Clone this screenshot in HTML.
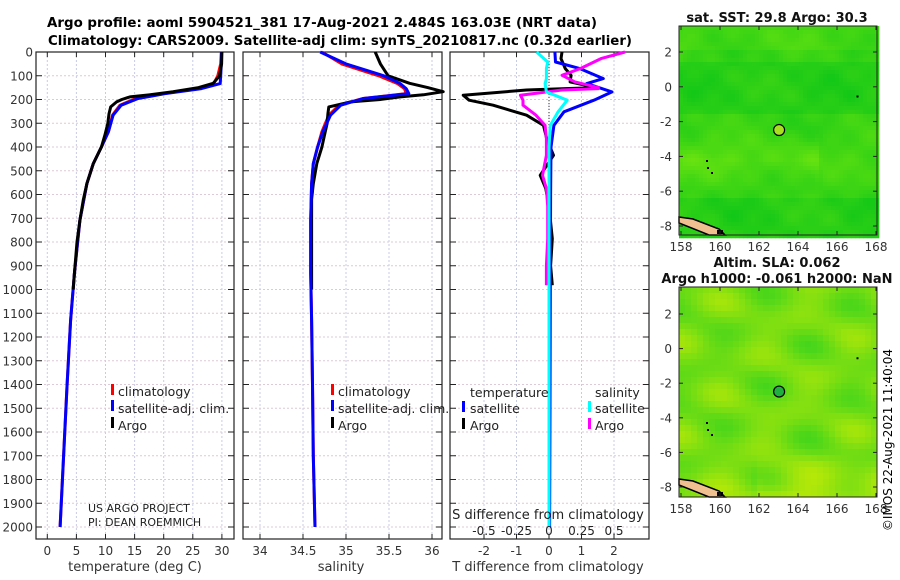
<!DOCTYPE html>
<html><head><meta charset="utf-8"><style>
html,body{margin:0;padding:0;background:#fff;}
svg{display:block;font-family:"DejaVu Sans","Liberation Sans",sans-serif;}
</style></head><body>
<svg id="fig" width="900" height="580" viewBox="0 0 900 580" xmlns="http://www.w3.org/2000/svg">
<text x="322" y="27" text-anchor="middle" font-size="13" font-weight="bold" textLength="550" lengthAdjust="spacingAndGlyphs">Argo profile: aoml 5904521_381 17-Aug-2021 2.484S 163.03E (NRT data)</text>
<text x="340" y="45" text-anchor="middle" font-size="13" font-weight="bold" textLength="584" lengthAdjust="spacingAndGlyphs">Climatology: CARS2009. Satellite-adj clim: synTS_20210817.nc (0.32d earlier)</text>
<g id="panels"></g>
<g id="maps"></g>
<text transform="translate(892,440) rotate(-90)" text-anchor="middle" font-size="12">©IMOS 22-Aug-2021 11:40:04</text>
</svg>
<script>
// ---- data (depth in m) ----
const depthTicks = [0,100,200,300,400,500,600,700,800,900,1000,1100,1200,1300,1400,1500,1600,1700,1800,1900,2000];
const argoDepth = [0,50,100,132,150,167,180,189,200,210,231,260,301,350,400,470,554,620,708,800,933,1000];
const argoTemp  = [30.0,29.95,29.6,28.5,26.0,21.6,17.5,14.2,12.8,11.9,10.9,10.6,10.4,9.9,9.3,7.9,6.8,6.2,5.6,5.1,4.65,4.45];
const argoSal   = [35.34,35.4,35.49,35.74,35.95,36.13,35.9,35.63,35.4,35.05,34.8,34.79,34.78,34.75,34.72,34.66,34.62,34.6,34.6,34.6,34.6,34.6];
const climDepth = [0,50,100,133,154,175,196,224,266,336,400,470,554,708,933,1130,1400,1700,2000];
const climTemp  = [29.9,29.8,29.3,28.6,25.8,20.0,15.2,12.5,11.2,10.5,9.3,7.9,6.8,5.6,4.65,4.0,3.4,2.8,2.2];
const climSal   = [34.72,34.95,35.38,35.6,35.68,35.7,35.2,34.92,34.8,34.72,34.67,34.62,34.6,34.59,34.59,34.6,34.61,34.62,34.64];
const satTemp   = [29.95,29.9,29.8,29.7,26.5,20.2,15.6,12.7,11.3,10.5,9.3,7.9,6.8,5.6,4.65,4.0,3.4,2.8,2.2];
const satSal    = [34.7,35.0,35.44,35.63,35.7,35.73,35.2,34.94,34.82,34.73,34.67,34.62,34.6,34.59,34.59,34.6,34.61,34.62,34.64];
// differences
const dArgoDepth = [0,28,70,98,126,150,154,160,182,203,224,266,309,365,435,519,575,650,786,900,982];
const dArgoT     = [0.4,0.37,0.5,0.68,0.65,1.47,0.5,-0.69,-2.64,-2.46,-1.72,-0.69,-0.17,-0.07,0.14,-0.27,-0.1,0.0,0.1,0.05,0.1];
const dArgoS     = [0.585,0.4,0.24,0.1,0.2,0.38,0.38,0.1,-0.22,-0.2,-0.2,-0.1,-0.03,-0.02,-0.02,-0.05,-0.02,-0.01,-0.01,-0.02,-0.02];
const dSatDepth  = [0,42,70,112,133,168,203,252,309,400,600,1000,1500,2000];
const dSatT      = [0.18,0.2,0.95,1.67,1.16,1.94,1.38,0.46,0.15,0.06,0.05,0.04,0.03,0.02];
const dSatS      = [-0.095,-0.01,-0.02,-0.02,-0.03,-0.02,0.14,0.07,0.01,0.0,0.0,0.0,0.0,0.0];
const tTicks = [0,5,10,15,20,25,30];
const sTicks = [34,34.5,35,35.5,36];
const dTTicks = [-2,-1,0,1,2];
const dSTickLabels = ["-0.5","-0.25","0","0.25","0.5"];

const NS="http://www.w3.org/2000/svg";
const root=document.getElementById('panels');
function el(tag,attrs,parent){const e=document.createElementNS(NS,tag);for(const k in attrs)e.setAttribute(k,attrs[k]);(parent||root).appendChild(e);return e;}
const TOP=52,BOT=539;
const yD = d => 52 + d*0.2375;
const panels=[
 {x0:36,x1:234,f:v=>47.3+v*5.82,ticks:tTicks,labels:tTicks.map(String),name:'temperature'},
 {x0:243,x1:442,f:v=>260+(v-34)*86,ticks:sTicks,labels:sTicks.map(String),name:'salinity'},
 {x0:450,x1:649,f:v=>549+v*32.5,ticks:dTTicks,labels:dTTicks.map(String),name:'difference'}
];
function line(xs,ds,fx,color,name,w){
  const pts=xs.map((v,i)=>fx(v).toFixed(1)+','+yD(ds[i]).toFixed(1)).join(' ');
  const p=el('polyline',{points:pts,fill:'none',stroke:color,'stroke-width':w||3,'stroke-linejoin':'round'});
  
  
}
panels.forEach((P,pi)=>{
  const g=el('g',{});
  
  
  P.ticks.forEach(t=>{const x=P.f(t);el('line',{x1:x,x2:x,y1:TOP,y2:BOT,stroke:'#c8cbe6','stroke-width':1,'stroke-dasharray':'2,2'},g);
    el('line',{x1:x,x2:x,y1:BOT,y2:BOT-5,stroke:'#222'},g);el('line',{x1:x,x2:x,y1:TOP,y2:TOP+5,stroke:'#222'},g);});
  depthTicks.forEach(d=>{const y=yD(d);el('line',{x1:P.x0,x2:P.x1,y1:y,y2:y,stroke:'#dccbd4','stroke-width':1,'stroke-dasharray':'2,2'},g);
    el('line',{x1:P.x0,x2:P.x0+6,y1:y,y2:y,stroke:'#222'},g);el('line',{x1:P.x1,x2:P.x1-6,y1:y,y2:y,stroke:'#222'},g);});
  if(pi===2){el('line',{x1:549,x2:549,y1:TOP,y2:320,stroke:'#333','stroke-dasharray':'1,2'},g);}
  P.ticks.forEach((t,i)=>{const tx=el('text',{x:P.f(t),y:555,'text-anchor':'middle','font-size':12,fill:'#333'},g);tx.textContent=P.labels[i];
    });
  el('rect',{x:P.x0,y:TOP,width:P.x1-P.x0,height:BOT-TOP,fill:'none',stroke:'#222','stroke-width':1.2},g);
});
depthTicks.forEach(d=>{const t=el('text',{x:33,y:yD(d)+4.5,'text-anchor':'end','font-size':12,fill:'#333'});t.textContent=d;
  });
line(climTemp,climDepth,panels[0].f,'#ff0000','temp-climatology-line',3);
line(satTemp,climDepth,panels[0].f,'#0000ff','temp-satellite-line',3);
line(argoTemp,argoDepth,panels[0].f,'#000000','temp-argo-line',3);
line(climSal,climDepth,panels[1].f,'#ff0000','sal-climatology-line',3);
line(argoSal,argoDepth,panels[1].f,'#000000','sal-argo-line',3);
line(satSal,climDepth,panels[1].f,'#0000ff','sal-satellite-line',3);
const fT=panels[2].f, fS=v=>549+v*130;
line(dArgoT,dArgoDepth,fT,'#000000','tdiff-argo-line',3);
line(dSatT,dSatDepth,fT,'#0000ff','tdiff-satellite-line',3);
line(dArgoS,dArgoDepth,fS,'#ff00ff','sdiff-argo-line',3);
line(dSatS,dSatDepth,fS,'#00ffff','sdiff-satellite-line',3);
function txt(x,y,s,size,name,anchor,extra){const t=el('text',Object.assign({x:x,y:y,'font-size':size,fill:'#222','text-anchor':anchor||'start'},extra||{}));t.textContent=s;
  return t;}
txt(135,571,'temperature (deg C)',13,'temp-axis-title','middle',{fill:'#333'});
txt(341,571,'salinity',13,'sal-axis-title','middle',{fill:'#333'});
txt(548,571,'T difference from climatology',13,'tdiff-axis-title','middle',{fill:'#333'});
txt(548,519,'S difference from climatology',13,'sdiff-axis-title','middle');
[-0.5,-0.25,0,0.25,0.5].forEach((v,i)=>txt(fS(v),535,dSTickLabels[i],12,'sdiff-tick-label','middle'));
function mark(x,y,c,name){const r=el('rect',{x:x,y:y-13,width:3,height:11,fill:c});}
[[111,118],[331,338]].forEach(([mx,tx],k)=>{
  mark(mx,397,'#ff0000','legend-climatology-mark');txt(tx,396,'climatology',12.5,'legend-climatology');
  mark(mx,413,'#0000ff','legend-satellite-mark');txt(tx,413,'satellite-adj. clim.',12.5,'legend-satellite');
  mark(mx,430,'#000','legend-argo-mark');txt(tx,430,'Argo',12.5,'legend-argo');
});
txt(470,397,'temperature',12.5,'legend-temperature-header');txt(595,397,'salinity',12.5,'legend-salinity-header');
mark(462,414,'#0000ff','legend-tdiff-satellite-mark');txt(470,413,'satellite',12.5,'legend-tdiff-satellite');
mark(462,431,'#000','legend-tdiff-argo-mark');txt(470,430,'Argo',12.5,'legend-tdiff-argo');
mark(588,414,'#00ffff','legend-sdiff-satellite-mark');txt(595,413,'satellite',12.5,'legend-sdiff-satellite');
mark(588,431,'#ff00ff','legend-sdiff-argo-mark');txt(595,430,'Argo',12.5,'legend-sdiff-argo');
txt(88,512,'US ARGO PROJECT',11,'project-credit');txt(88,526,'PI: DEAN ROEMMICH',11,'pi-credit');

// ---- maps ----
const lonTicks=[158,160,162,164,166,168];
const latTicks=[2,0,-2,-4,-6,-8];
const argoLon=163.03, argoLat=-2.484;
const mroot=document.getElementById('maps');
function mel(tag,a,p){return el(tag,a,p||mroot);}
function field1(lon,lat){
  let v=0.45+0.12*Math.sin(lon*0.9+lat*0.7)*Math.cos(lat*1.3)+0.08*Math.sin(lon*3.1)*Math.sin(lat*2.7);
  if(lat<-2.5&&lat>-6)v+=0.3*(1-Math.abs(lat+4.2)/1.8)*(lon<165?1:0.4);
  if(lat>2)v+=0.12;
  if(lat<-6.5)v-=0.15; if(lat>-1.5&&lat<1.5)v-=0.15;
  return v;}
function field2(lon,lat){
  let v=0.45+0.22*Math.sin(lon*1.4+0.5)*Math.cos(lat*1.2-0.3)+0.1*Math.sin(lat*2.3+lon*0.6);
  if(lat<-6)v+=0.35*(-6-lat)/2.5*(lon>162?1:0.4);
  return v;}
function col1(v){v=Math.max(0,Math.min(1,v));const r=Math.round(5+v*110),g=Math.round(195+v*35),b=Math.round(25-v*10);return `rgb(${r},${g},${b})`;}
function col2(v){v=Math.max(0,Math.min(1,v));let r=Math.round(50+v*150),g=Math.round(210+v*25),b=Math.round(30-v*25);if(v>0.88){r=215;g=225;}return `rgb(${r},${g},${b})`;}
function drawMap(y0,y1,lat2y,latm8y,field,col,name,circleFill,step){
  const x0=679,x1=877;
  const fx=lon=>681+(lon-158)*19.5;
  const fy=lat=>lat2y+(2-lat)*(latm8y-lat2y)/10;
  const g=mel('g',{});
  
  
  for(let y=y0;y<y1;y+=step)for(let x=x0;x<x1;x+=step){
    const lon=158+(x+step/2-681)/19.5, lat=2-(y+step/2-lat2y)/((latm8y-lat2y)/10);
    el('rect',{x:x,y:y,width:step+0.3,height:step+0.3,fill:col(field(lon,lat))},g);
  }
  el('polygon',{points:`${x0},${y1-18} ${x0+14},${y1-16} ${x0+40},${y1-6} ${x0+46},${y1} ${x0+30},${y1} ${x0},${y1-12}`,fill:'#f0c090',stroke:'#000','stroke-width':1.5},g);
  el('rect',{x:x0+38,y:y1-5,width:6,height:4,fill:'#000'},g);
  el('rect',{x:x0+27,y:y1-75,width:2,height:2,fill:'#000'},g);
  el('rect',{x:x0+28,y:y1-68,width:2,height:2,fill:'#000'},g);
  el('rect',{x:x0+32,y:y1-63,width:2,height:2,fill:'#000'},g);
  el('rect',{x:fx(167),y:fy(-0.5),width:2,height:2,fill:'#000'},g);
  el('rect',{x:x0,y:y0,width:x1-x0,height:y1-y0,fill:'none',stroke:'#222'},g);
  const c=el('circle',{cx:fx(argoLon),cy:fy(argoLat),r:5.5,fill:circleFill,stroke:'#000','stroke-width':1.2},g);
  
  
  lonTicks.forEach(l=>{const x=fx(l);el('line',{x1:x,x2:x,y1:y1,y2:y1-4,stroke:'#222'},g);el('line',{x1:x,x2:x,y1:y0,y2:y0+4,stroke:'#222'},g);
    const t=el('text',{x:x,y:y1+16,'text-anchor':'middle','font-size':12,fill:'#333'},g);t.textContent=l;
    });
  latTicks.forEach(l=>{const y=fy(l);el('line',{x1:x0,x2:x0+4,y1:y,y2:y,stroke:'#222'},g);el('line',{x1:x1,x2:x1-4,y1:y,y2:y,stroke:'#222'},g);
    const t=el('text',{x:672,y:y+4.5,'text-anchor':'end','font-size':12,fill:'#333'},g);t.textContent=l;
    });
}
drawMap(26,235,52,226,field1,col1,'sst-map','#a8e020',4);
drawMap(287,497,314,487,field2,col2,'sla-map','#20b040',6);
function mtxt(x,y,s,name){const t=mel('text',{x:x,y:y,'text-anchor':'middle','font-size':13,'font-weight':'bold',fill:'#111'});t.textContent=s;
  }
mtxt(777,22,'sat. SST: 29.8 Argo: 30.3','sst-map-title');
mtxt(777,267,'Altim. SLA: 0.062','sla-map-title');
mtxt(777,283,'Argo h1000: -0.061 h2000: NaN','sla-map-subtitle');
</script>
</body></html>
